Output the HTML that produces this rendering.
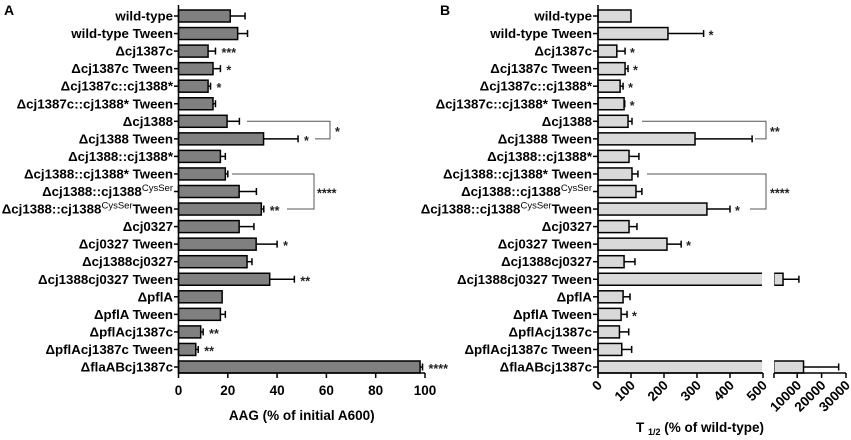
<!DOCTYPE html>
<html><head><meta charset="utf-8"><style>
body{margin:0;background:#fff;}
svg{display:block;font-family:"Liberation Sans",Arial,sans-serif;}
.lbl{font-weight:bold;font-size:13.3px;}
.tk{font-weight:bold;font-size:13.5px;}
.st{font-size:12.5px;fill:#222;font-weight:bold;}
</style></head><body>
<svg id="chart" width="851" height="440" viewBox="0 0 851 440"></svg>
<script>
const categories=["wild-type","wild-type Tween","Δcj1387c","Δcj1387c Tween","Δcj1387c::cj1388*","Δcj1387c::cj1388* Tween","Δcj1388","Δcj1388 Tween","Δcj1388::cj1388*","Δcj1388::cj1388* Tween","Δcj1388::cj1388|CysSer","Δcj1388::cj1388|CysSer|Tween","Δcj0327","Δcj0327 Tween","Δcj1388cj0327","Δcj1388cj0327 Tween","ΔpflA","ΔpflA Tween","ΔpflAcj1387c","ΔpflAcj1387c Tween","ΔflaABcj1387c"];
const aagValues=[21,24,12,14,12,14,19.7,34.5,17,19,24.6,33.6,24.6,31.5,27.8,37,17.7,17,9,7,98];
const aagErrors=[6,4,3,3,1,1,5,14,2,1,7,1,6,8.5,2,10,0,2,1,1,1];
const aagStars=["","","***","*","*","","","*","","","","**","","*","","**","","","**","**","****"];
const aagTicks=[0,20,40,60,80,100];
const tValues=[100,212,57,82,67,79,91,294,94,103,115,330,94,209,79,4200,76,70,65,72,12600];
const tErrors=[0,108,25,9,9,2,12,173,30,18,18,70,24,43,33,6500,21,18,28,30,14400];
const tStars=["","*","*","*","*","*","","","","","","*","","*","","","","*","","",""];
const tTicks=[0,100,200,300,400,500,10000,20000,30000];
const NS="http://www.w3.org/2000/svg";
const svg=document.getElementById('chart');
function mk(t,a,p){const e=document.createElementNS(NS,t);for(const k in a)e.setAttribute(k,a[k]);(p||svg).appendChild(e);return e;}
const rowY=i=>16+i*17.55;
const BH=12;
const xA=v=>178.5+v*2.465;
const xB=v=>v<=500?598+v*0.33:774+(v-500)/29500*72;

function label(x,y,txt){
  const t=mk('text',{x:x,y:y+4.5,'text-anchor':'end',class:'lbl'});
  
  
  const parts=txt.split('|');
  const a=document.createElementNS(NS,'tspan');a.textContent=parts[0];t.appendChild(a);
  if(parts.length>1){
    const s=document.createElementNS(NS,'tspan');s.setAttribute('dy','-5');s.setAttribute('font-size','9.5');s.setAttribute('font-weight','normal');s.textContent=parts[1];t.appendChild(s);
    const r=document.createElementNS(NS,'tspan');r.setAttribute('dy','5');r.textContent=parts[2]||'';t.appendChild(r);
  }
}

// Panel A
const gA=mk('g',{});


mk('text',{x:4,y:15,'font-weight':'bold','font-size':'14'},gA).textContent='A';
categories.forEach((c,i)=>{
  const y=rowY(i);
  label(173,y,c);
  mk('line',{x1:174,x2:178.5,y1:y,y2:y,stroke:'#000','stroke-width':1.5},gA);
  const b=mk('rect',{x:xA(0),y:y-BH/2,width:xA(aagValues[i])-xA(0),height:BH,fill:'#808080',stroke:'#000','stroke-width':1.5},gA);
  
  
  const xe=xA(aagValues[i]+aagErrors[i]);
  if(aagErrors[i]>0){mk('line',{x1:xA(aagValues[i]),x2:xe,y1:y,y2:y,stroke:'#000','stroke-width':1.5},gA);
  mk('line',{x1:xe,x2:xe,y1:y-3.5,y2:y+3.5,stroke:'#000','stroke-width':1.5},gA);}
  if(aagStars[i]){const s=mk('text',{x:xe+6,y:y+6,class:'st'},gA);s.textContent=aagStars[i];}
});
mk('line',{x1:178.5,x2:178.5,y1:5,y2:373,stroke:'#000','stroke-width':1.5},gA);
mk('line',{x1:178.5,x2:xA(100),y1:373,y2:373,stroke:'#000','stroke-width':1.5},gA);
aagTicks.forEach(v=>{mk('line',{x1:xA(v),x2:xA(v),y1:373,y2:378,stroke:'#000','stroke-width':1.5},gA);
  const t=mk('text',{x:xA(v),y:395,'text-anchor':'middle',class:'tk'},gA);t.textContent=v;});
const xt=mk('text',{x:xA(50),y:420,'text-anchor':'middle',class:'tk'},gA);xt.textContent='AAG (% of initial A600)';

// brackets A
mk('polyline',{points:`247,${rowY(6)} 330,${rowY(6)} 330,${rowY(7)} 315,${rowY(7)}`,fill:'none',stroke:'#555'},gA);
mk('text',{x:335,y:(rowY(6)+rowY(7))/2+6,class:'st'},gA).textContent='*';
mk('polyline',{points:`232,${rowY(9)} 314,${rowY(9)} 314,${rowY(11)} 287,${rowY(11)}`,fill:'none',stroke:'#555'},gA);
mk('text',{x:317,y:rowY(10)+6,class:'st'},gA).textContent='****';

// Panel B
const gB=mk('g',{});


mk('text',{x:440,y:15,'font-weight':'bold','font-size':'14'},gB).textContent='B';
categories.forEach((c,i)=>{
  const y=rowY(i);
  label(592,y,c);
  mk('line',{x1:593,x2:598,y1:y,y2:y,stroke:'#000','stroke-width':1.5},gB);
  const v=tValues[i];
  if(v<=500){
    const b=mk('rect',{x:598,y:y-BH/2,width:xB(v)-598,height:BH,fill:'#d9d9d9',stroke:'#000','stroke-width':1.5},gB);
    
    
  } else {
    const b=mk('rect',{x:598,y:y-BH/2,width:xB(500)-598,height:BH,fill:'#d9d9d9',stroke:'#000','stroke-width':1.5},gB);
    
    
    mk('rect',{x:xB(500)-1,y:y-BH/2-1,width:3,height:BH+2,fill:'#fff'},gB);
    const b2=mk('rect',{x:774,y:y-BH/2,width:xB(v)-774,height:BH,fill:'#d9d9d9',stroke:'#000','stroke-width':1.5},gB);
    
    
    mk('rect',{x:772,y:y-BH/2-1,width:2.2,height:BH+2,fill:'#fff'},gB);
  }
  if(tErrors[i]>0){const xe=xB(v+tErrors[i]);
    mk('line',{x1:xB(v),x2:xe,y1:y,y2:y,stroke:'#000','stroke-width':1.5},gB);
    mk('line',{x1:xe,x2:xe,y1:y-3.5,y2:y+3.5,stroke:'#000','stroke-width':1.5},gB);
    if(tStars[i]){mk('text',{x:xe+5,y:y+6,class:'st'},gB).textContent=tStars[i];}}
  else if(tStars[i]){mk('text',{x:xB(v)+5,y:y+6,class:'st'},gB).textContent=tStars[i];}
});
mk('line',{x1:598,x2:598,y1:5,y2:373,stroke:'#000','stroke-width':1.5},gB);
mk('line',{x1:598,x2:xB(500),y1:373,y2:373,stroke:'#000','stroke-width':1.5},gB);
mk('line',{x1:774,x2:xB(30000),y1:373,y2:373,stroke:'#000','stroke-width':1.5},gB);
tTicks.forEach(v=>{const x=xB(v);mk('line',{x1:x,x2:x,y1:373,y2:378,stroke:'#000','stroke-width':1.5},gB);
  const t=mk('text',{x:x+5,y:386,'text-anchor':'end',class:'tk',transform:`rotate(-45 ${x+5} 386)`},gB);t.textContent=v;});
mk('line',{x1:774,x2:774,y1:373,y2:378,stroke:'#000','stroke-width':1.5},gB);
const xt2=mk('text',{x:700,y:432,'text-anchor':'middle',class:'tk'},gB);

xt2.innerHTML='T <tspan font-size="9" dy="3">1/2</tspan><tspan dy="-3"> (% of wild-type)</tspan>';
mk('polyline',{points:`642,${rowY(6)} 766,${rowY(6)} 766,${rowY(7)} 755,${rowY(7)}`,fill:'none',stroke:'#555'},gB);
mk('text',{x:770,y:(rowY(6)+rowY(7))/2+6,class:'st'},gB).textContent='**';
mk('polyline',{points:`647,${rowY(9)} 766,${rowY(9)} 766,${rowY(11)} 750,${rowY(11)}`,fill:'none',stroke:'#555'},gB);
mk('text',{x:770,y:rowY(10)+6,class:'st'},gB).textContent='****';
</script>
</body></html>
